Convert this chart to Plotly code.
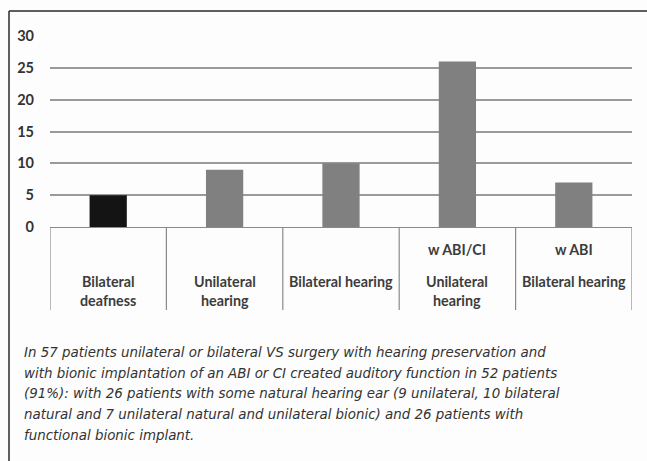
import plotly.graph_objects as go

# Patient counts by hearing outcome
categories = ["Bilateral deafness", "Unilateral hearing", "Bilateral hearing",
              "w ABI/CI Unilateral hearing", "w ABI Bilateral hearing"]
values = [5, 9, 10, 26, 7]
bar_colors = ["#141414", "#808080", "#808080", "#808080", "#808080"]

# Axis-label lines drawn under each category: (text, pixel row)
label_lines = [
    [("Bilateral", 281), ("deafness", 300)],
    [("Unilateral", 281), ("hearing", 300)],
    [("Bilateral hearing", 281)],
    [("w ABI/CI", 249), ("Unilateral", 281), ("hearing", 300)],
    [("w ABI", 249), ("Bilateral hearing", 281)],
]
y_ticks = [0, 5, 10, 15, 20, 25, 30]

caption_lines = [
    "In 57 patients unilateral or bilateral VS surgery with hearing preservation and",
    "with bionic implantation of an ABI or CI created auditory function in 52 patients",
    "(91%): with 26 patients with some natural hearing ear (9 unilateral, 10 bilateral",
    "natural and 7 unilateral natural and unilateral bionic) and 26 patients with",
    "functional bionic implant.",
]

W, H = 647, 461
L, R, T, B = 50, 15, 36, 234
plot_w = W - L - R
plot_h = H - T - B


def py(pixel_y):
    return (H - B - pixel_y) / plot_h


def px(pixel_x):
    return (pixel_x - L) / plot_w


fig = go.Figure(go.Bar(
    x=list(range(len(categories))),
    y=values,
    marker=dict(color=bar_colors, line=dict(width=0)),
    hovertext=categories,
    width=0.32,
))

shapes = []
# category divider lines below the baseline
for i in range(len(categories) + 1):
    shapes.append(dict(type="line", xref="x", yref="paper",
                       x0=i - 0.5, x1=i - 0.5, y0=0, y1=py(310),
                       line=dict(color="#8a8a8a", width=1.2)))
# outer frame: top and left edges
shapes.append(dict(type="line", xref="paper", yref="paper",
                   x0=px(9), x1=px(W + 5), y0=py(11), y1=py(11),
                   line=dict(color="#2a2a2a", width=1.5)))
shapes.append(dict(type="line", xref="paper", yref="paper",
                   x0=px(9), x1=px(9), y0=py(11), y1=py(H + 5),
                   line=dict(color="#2a2a2a", width=1.5)))

annotations = []
for i, lines in enumerate(label_lines):
    for text, row in lines:
        annotations.append(dict(x=i, xref="x", y=py(row), yref="paper",
                                text=f"<b>{text}</b>", showarrow=False,
                                xanchor="center", yanchor="middle",
                                font=dict(family="Lato, Open Sans, sans-serif",
                                          size=14.3, color="#3c3c3c")))
# caption below the chart, one annotation per line
for k, line in enumerate(caption_lines):
    annotations.append(dict(x=px(22), xref="paper", y=py(352 + 20.7 * k), yref="paper",
                            text=f"<i>{line}</i>", showarrow=False,
                            xanchor="left", yanchor="middle", align="left",
                            font=dict(family="DejaVu Sans Condensed, Liberation Sans Narrow, sans-serif",
                                      size=14.9, color="#333333")))

fig.update_layout(
    width=W, height=H,
    margin=dict(l=L, r=R, t=T, b=B, pad=0),
    paper_bgcolor="#fdfdfd", plot_bgcolor="#fdfdfd",
    showlegend=False,
    bargap=0.68,
    xaxis=dict(range=[-0.5, len(categories) - 0.5], showticklabels=False,
               showgrid=False, zeroline=False, showline=False, ticks=""),
    yaxis=dict(range=[0, 30], tickvals=y_ticks, showgrid=True,
               gridcolor="#9a9a9a", gridwidth=1.5, zeroline=True,
               zerolinecolor="#8a8a8a", zerolinewidth=1.2,
               showline=False, ticks="", ticklabelstandoff=15,
               tickfont=dict(family="Lato, Open Sans, sans-serif", size=14.5,
                             color="#333333", weight="bold")),
    shapes=shapes,
    annotations=annotations,
)

fig.write_html("out.html")
